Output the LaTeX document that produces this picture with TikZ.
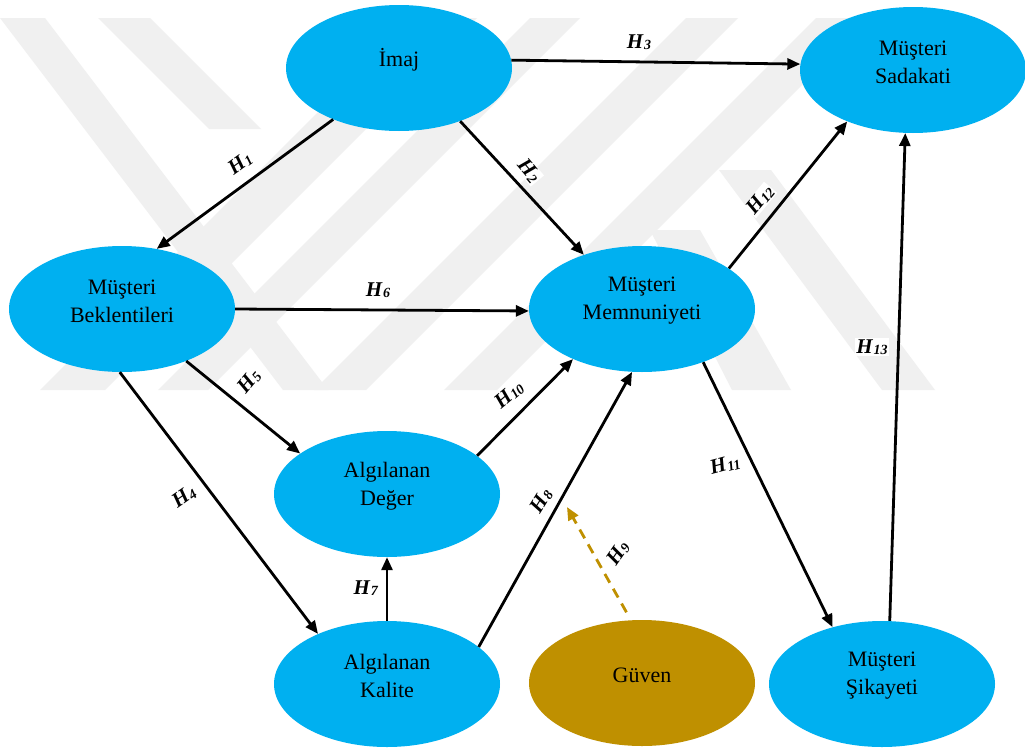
\documentclass[tikz,border=0pt]{standalone}
\usepackage{fontspec}
\setmainfont{Liberation Serif}
\usetikzlibrary{shapes.geometric,arrows.meta}
\definecolor{nodeblue}{HTML}{00B0F0}
\definecolor{goldc}{HTML}{BF9000}
\definecolor{wm}{HTML}{F0F0F0}
\newcommand{\hyp}[1]{\textbf{\textit{H}\kern0.2pt\raisebox{-1.5pt}{\fontsize{14}{14}\selectfont\textbf{\textit{#1}}}}}
\begin{document}
\begin{tikzpicture}[x=1pt,y=-1pt,
  ell/.style={ellipse, fill=nodeblue, draw=none, minimum width=226pt, minimum height=126pt, inner sep=0pt},
  goldell/.style={ell, fill=goldc},
  ntext/.style={align=center, font=\fontsize{22}{28}\selectfont, yshift=8pt},
  conn/.style={line width=2.8pt, -{Triangle[length=13pt,width=11pt]}},
  goldarrow/.style={line width=2.8pt, goldc, dash pattern=on 10pt off 7pt, -{Triangle[length=13pt,width=11pt]}},
  hlab/.style={font=\fontsize{21}{21}\selectfont, fill=white, inner sep=1pt},
  wmband/.style={fill=wm, draw=none}
]
\useasboundingbox (0,0) rectangle (1025,747);
\fill[white] (0,0) rectangle (1025,747);
% watermark (approximate)
\fill[wmband] (0,18) -- (45,18) -- (328,390) -- (283,390) -- cycle;
\fill[wmband] (98,18) -- (150,18) -- (261,129) -- (209,129) -- cycle;
\fill[wmband] (412,18) -- (477,18) -- (105,390) -- (40,390) -- cycle;
\fill[wmband] (530,18) -- (580,18) -- (208,390) -- (158,390) -- cycle;
\fill[wmband] (686,18) -- (738,18) -- (366,390) -- (314,390) -- cycle;
\fill[wmband] (816,18) -- (869,18) -- (497,390) -- (444,390) -- cycle;
\fill[wmband] (719,170) -- (771,170) -- (935,390) -- (882,390) -- cycle;
\fill[wmband] (650,230) -- (700,230) -- (791,390) -- (732,390) -- cycle;
% nodes
\node[ell, label={[ntext]center:{İmaj}}] (imaj) at (399,68) {};
\node[ell, label={[ntext]center:{Müşteri\\Sadakati}}] (sad) at (913,70) {};
\node[ell, label={[ntext]center:{Müşteri\\Beklentileri}}] (mb) at (122,309) {};
\node[ell, label={[ntext]center:{Müşteri\\Memnuniyeti}}] (mm) at (642,309) {};
\node[ell, label={[ntext]center:{Algılanan\\Değer}}] (deg) at (387,494) {};
\node[ell, label={[ntext]center:{Algılanan\\Kalite}}] (kal) at (387,684) {};
\node[goldell, label={[ntext]center:{Güven}}] (guv) at (642,683) {};
\node[ell, label={[ntext]center:{Müşteri\\Şikayeti}}] (sik) at (882,684) {};
\coordinate (h9end) at (567,507);
% connectors
\draw[conn] (imaj.218.8) -- (mb.60.5);
\draw[conn] (imaj.319) -- (mm.137);
\draw[conn] (imaj.4) -- (sad.177);
\draw[conn] (mb.0) -- (mm.181);
\draw[conn] (mb.321.8) -- (deg.155.6);
\draw[conn] (mb.268) -- (kal.144.5);
\draw[conn] (kal.north) -- (deg.south);
\draw[conn] (deg.23) -- (mm.216.9);
\draw[conn] (kal.22.2) -- (mm.261.7);
\draw[goldarrow, shorten <=9pt] (guv.100) -- (h9end);
\draw[conn] (mm.319.5) -- (sik.131.8);
\draw[conn] (mm.25.2) -- (sad.218.1);
\draw[conn] (sik.83) -- (sad.263);
% labels
\node[hlab, rotate=36] (l1) at (240,163) {\hyp{1}};
\node[hlab, rotate=-50] (l2) at (529,171) {\hyp{2}};
\node[hlab] (l3) at (639,42) {\hyp{3}};
\node[hlab, rotate=35] (l4) at (184,497) {\hyp{4}};
\node[hlab, rotate=50] (l5) at (249,381) {\hyp{5}};
\node[hlab] (l6) at (378,290) {\hyp{6}};
\node[hlab] (l7) at (366,588) {\hyp{7}};
\node[hlab, rotate=58] (l8) at (541,501) {\hyp{8}};
\node[hlab, rotate=55] (l9) at (618,553) {\hyp{9}};
\node[hlab, rotate=40] (l10) at (509,395) {\hyp{10}};
\node[hlab, rotate=15] (l11) at (725,465) {\hyp{11}};
\node[hlab, rotate=50] (l12) at (760,200) {\hyp{12}};
\node[hlab] (l13) at (872,347) {\hyp{13}};
\end{tikzpicture}
\end{document}
